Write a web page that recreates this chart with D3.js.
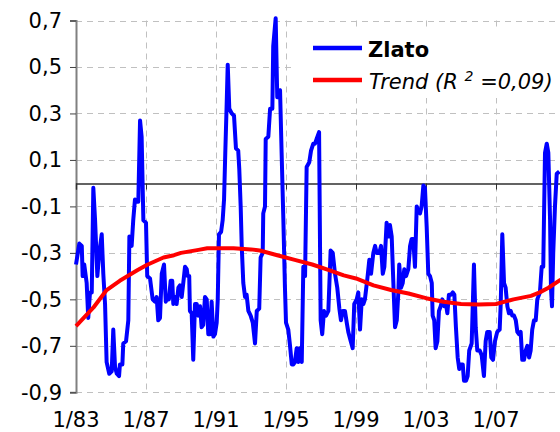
<!DOCTYPE html>
<html>
<head>
<meta charset="utf-8">
<script src="https://cdn.jsdelivr.net/npm/d3@7"></script>
<style>
  body { margin: 0; background: #fff; }
  svg { display: block; font-family: "DejaVu Sans", Verdana, sans-serif; }
</style>
</head>
<body>
<div id="chart"></div>
<script>
// years since 1/83 and the gold series
const goldT = [0.00, 0.19, 0.33, 0.38, 0.47, 0.61, 0.70, 0.80, 0.90, 0.99, 1.09, 1.22, 1.33, 1.47, 1.56, 1.66, 1.75, 1.90, 2.04, 2.13, 2.23, 2.33, 2.46, 2.51, 2.65, 2.70, 2.86, 2.99, 3.05, 3.18, 3.27, 3.37, 3.47, 3.56, 3.66, 3.75, 3.85, 4.00, 4.07, 4.23, 4.38, 4.51, 4.61, 4.70, 4.80, 4.90, 5.03, 5.13, 5.22, 5.31, 5.41, 5.50, 5.56, 5.66, 5.75, 5.85, 5.94, 6.04, 6.13, 6.23, 6.33, 6.38, 6.47, 6.51, 6.61, 6.70, 6.80, 6.90, 6.99, 7.09, 7.18, 7.27, 7.37, 7.47, 7.56, 7.66, 7.75, 7.85, 7.94, 8.04, 8.10, 8.17, 8.29, 8.38, 8.46, 8.53, 8.61, 8.67, 8.76, 8.90, 9.03, 9.14, 9.27, 9.33, 9.41, 9.47, 9.56, 9.66, 9.75, 9.85, 9.98, 10.10, 10.23, 10.33, 10.47, 10.55, 10.67, 10.70, 10.80, 10.84, 10.99, 11.09, 11.22, 11.27, 11.41, 11.50, 11.66, 11.75, 11.85, 11.94, 12.00, 12.13, 12.23, 12.33, 12.42, 12.51, 12.61, 12.70, 12.80, 12.90, 12.99, 13.09, 13.18, 13.33, 13.43, 13.56, 13.66, 13.75, 13.89, 13.98, 14.07, 14.17, 14.29, 14.42, 14.55, 14.67, 14.80, 14.93, 15.05, 15.14, 15.24, 15.37, 15.47, 15.56, 15.70, 15.81, 15.90, 16.04, 16.13, 16.23, 16.33, 16.42, 16.51, 16.65, 16.76, 16.86, 16.99, 17.09, 17.18, 17.33, 17.43, 17.53, 17.62, 17.75, 17.85, 17.94, 18.04, 18.13, 18.23, 18.33, 18.42, 18.47, 18.57, 18.67, 18.76, 18.86, 18.99, 19.09, 19.18, 19.27, 19.37, 19.47, 19.56, 19.66, 19.75, 19.85, 19.94, 20.04, 20.13, 20.23, 20.33, 20.38, 20.47, 20.55, 20.65, 20.74, 20.84, 20.93, 21.05, 21.14, 21.22, 21.31, 21.43, 21.53, 21.62, 21.71, 21.81, 21.90, 22.00, 22.10, 22.17, 22.29, 22.38, 22.47, 22.61, 22.74, 22.84, 22.93, 23.07, 23.18, 23.31, 23.41, 23.50, 23.64, 23.73, 23.83, 23.94, 24.07, 24.21, 24.27, 24.36, 24.46, 24.55, 24.65, 24.74, 24.84, 24.93, 25.03, 25.13, 25.22, 25.31, 25.41, 25.50, 25.60, 25.70, 25.79, 25.89, 25.98, 26.07, 26.17, 26.27, 26.36, 26.51, 26.61, 26.70, 26.80, 26.90, 26.99, 27.09, 27.14, 27.20, 27.27, 27.37, 27.47, 27.62];
const goldValues = [-0.35, -0.26, -0.27, -0.40, -0.35, -0.43, -0.58, -0.47, -0.47, -0.02, -0.16, -0.40, -0.30, -0.22, -0.39, -0.52, -0.77, -0.82, -0.81, -0.63, -0.79, -0.82, -0.83, -0.78, -0.78, -0.69, -0.68, -0.59, -0.23, -0.27, -0.16, -0.07, -0.08, -0.08, 0.27, 0.20, -0.16, -0.17, -0.40, -0.41, -0.50, -0.51, -0.49, -0.59, -0.58, -0.39, -0.35, -0.51, -0.49, -0.50, -0.42, -0.42, -0.52, -0.49, -0.52, -0.45, -0.44, -0.49, -0.43, -0.36, -0.37, -0.40, -0.40, -0.55, -0.56, -0.76, -0.52, -0.52, -0.57, -0.53, -0.62, -0.61, -0.49, -0.50, -0.65, -0.65, -0.51, -0.66, -0.65, -0.60, -0.50, -0.22, -0.21, -0.16, -0.07, 0.13, 0.34, 0.51, 0.32, 0.30, 0.29, 0.15, 0.14, 0.06, -0.10, -0.27, -0.43, -0.49, -0.48, -0.55, -0.57, -0.60, -0.69, -0.55, -0.54, -0.32, -0.30, -0.13, -0.10, 0.19, 0.20, 0.32, 0.32, 0.59, 0.71, 0.37, 0.40, 0.13, -0.16, -0.45, -0.60, -0.63, -0.70, -0.78, -0.78, -0.77, -0.71, -0.77, -0.71, -0.77, -0.36, -0.40, 0.07, 0.09, 0.14, 0.17, 0.17, 0.19, 0.22, -0.59, -0.65, -0.55, -0.57, -0.55, -0.29, -0.30, -0.39, -0.45, -0.54, -0.59, -0.55, -0.55, -0.60, -0.64, -0.68, -0.71, -0.52, -0.50, -0.47, -0.63, -0.50, -0.52, -0.50, -0.41, -0.33, -0.39, -0.30, -0.27, -0.30, -0.30, -0.27, -0.39, -0.36, -0.17, -0.23, -0.18, -0.23, -0.42, -0.62, -0.59, -0.47, -0.35, -0.45, -0.43, -0.37, -0.40, -0.37, -0.27, -0.24, -0.24, -0.36, -0.10, -0.12, -0.13, -0.10, -0.01, -0.02, -0.19, -0.39, -0.40, -0.43, -0.57, -0.59, -0.71, -0.68, -0.55, -0.53, -0.50, -0.53, -0.52, -0.56, -0.48, -0.48, -0.47, -0.48, -0.62, -0.75, -0.80, -0.78, -0.78, -0.85, -0.85, -0.83, -0.72, -0.69, -0.35, -0.62, -0.72, -0.72, -0.74, -0.83, -0.68, -0.64, -0.64, -0.75, -0.76, -0.68, -0.64, -0.63, -0.52, -0.22, -0.43, -0.45, -0.53, -0.56, -0.55, -0.57, -0.57, -0.59, -0.64, -0.65, -0.64, -0.76, -0.76, -0.72, -0.70, -0.75, -0.72, -0.63, -0.59, -0.59, -0.50, -0.47, -0.36, -0.36, 0.13, 0.17, 0.13, -0.16, -0.45, -0.53, -0.30, -0.10, 0.04, 0.05];

// trend line
const trendT = [0, 1.0, 1.75, 2.5, 3.5, 4.04, 5.0, 5.6, 6.0, 7.0, 7.5, 9.0, 10.0, 10.5, 11.5, 12.5, 13.5, 14.5, 15.3, 16.0, 17.0, 18.0, 19.0, 20.0, 21.0, 22.0, 23.0, 24.0, 25.0, 26.0, 26.5, 27.0, 27.7];
const trendValues = [-0.615, -0.535, -0.46, -0.42, -0.375, -0.352, -0.32, -0.31, -0.30, -0.287, -0.28, -0.28, -0.285, -0.29, -0.31, -0.33, -0.35, -0.375, -0.397, -0.41, -0.44, -0.46, -0.475, -0.495, -0.51, -0.52, -0.522, -0.52, -0.50, -0.485, -0.47, -0.45, -0.415];

const xTickT = [0, 4, 8, 12, 16, 20, 24];
const xTickLabels = ["1/83", "1/87", "1/91", "1/95", "1/99", "1/03", "1/07"];
const yTicks = [-0.9, -0.7, -0.5, -0.3, -0.1, 0.1, 0.3, 0.5, 0.7];

const width = 560, height = 432;
const margin = {top: 20.5, left: 76, bottom: 39.7};
const fontSize = 21;

const svg = d3.select("#chart")
  .append("svg")
    .attr("width", width)
    .attr("height", height);

svg.append("rect").attr("width", width).attr("height", height).attr("fill", "#fff");

// plot runs on past the right edge of the picture (to 1/11)
const x = d3.scaleLinear()
  .domain([0, 28])
  .range([margin.left, margin.left + 28 * 17.5]);
const y = d3.scaleLinear()
  .domain([-0.9, 0.7])
  .range([height - margin.bottom, margin.top]);

const locale = d3.formatLocale({decimal: ",", thousands: " ", grouping: [3], currency: ["", ""], minus: "-"});
const fmt = locale.format(".1f");

// dashed grid
svg.append("g")
  .selectAll("line")
  .data(yTicks)
  .join("line")
    .attr("x1", margin.left)
    .attr("x2", x(28))
    .attr("y1", d => Math.round(y(d)) + 0.5)
    .attr("y2", d => Math.round(y(d)) + 0.5)
    .attr("stroke", "#c0c0c0")
    .attr("stroke-dasharray", "6,5");

svg.append("g")
  .selectAll("line")
  .data(xTickT.slice(1).concat([28]))
  .join("line")
    .attr("x1", d => Math.round(x(d)) + 0.5)
    .attr("x2", d => Math.round(x(d)) + 0.5)
    .attr("y1", margin.top)
    .attr("y2", y(-0.9))
    .attr("stroke", "#c0c0c0")
    .attr("stroke-dasharray", "6,5");

// left axis
const yAxis = svg.append("g")
  .attr("transform", `translate(${margin.left},0)`)
  .call(d3.axisLeft(y).tickValues(yTicks).tickFormat(fmt).tickSize(6).tickPadding(8));
yAxis.select(".domain").attr("stroke", "#808080").attr("stroke-width", 2);
yAxis.selectAll(".tick line").attr("stroke", "#404040");
yAxis.selectAll("text")
  .attr("font-size", fontSize)
  .attr("font-family", "DejaVu Sans, Verdana, sans-serif")
  .attr("fill", "#000");

// category axis crosses at zero
const zeroY = Math.round(y(0)) + 0.5;
const xAxis = svg.append("g")
  .attr("transform", `translate(0,${zeroY})`)
  .call(d3.axisBottom(x).tickValues(xTickT.concat([28])).tickFormat("").tickSize(6));
xAxis.select(".domain").attr("stroke", "#303030").attr("stroke-width", 1.3);
xAxis.selectAll(".tick line").attr("stroke", "#303030");

svg.append("g")
  .selectAll("text")
  .data(xTickT)
  .join("text")
    .attr("x", d => x(d))
    .attr("y", 427)
    .attr("text-anchor", "middle")
    .attr("font-size", fontSize)
    .text((d, i) => xTickLabels[i]);

// series
const line = d3.line()
  .x(d => x(d[0]))
  .y(d => y(d[1]));

svg.append("path")
  .datum(goldT.map((t, i) => [t, goldValues[i]]))
  .attr("fill", "none")
  .attr("stroke", "#0000ff")
  .attr("stroke-width", 4)
  .attr("stroke-linejoin", "round")
  .attr("d", line);

svg.append("path")
  .datum(trendT.map((t, i) => [t, trendValues[i]]))
  .attr("fill", "none")
  .attr("stroke", "#ff0000")
  .attr("stroke-width", 4)
  .attr("stroke-linejoin", "round")
  .attr("d", line);

// legend
const legend = svg.append("g");
legend.append("rect")
  .attr("x", 291).attr("y", 30)
  .attr("width", 280).attr("height", 68)
  .attr("fill", "#fff");
legend.append("line")
  .attr("x1", 313).attr("x2", 362).attr("y1", 48).attr("y2", 48)
  .attr("stroke", "#0000ff").attr("stroke-width", 4.5);
legend.append("line")
  .attr("x1", 313).attr("x2", 362).attr("y1", 80).attr("y2", 80)
  .attr("stroke", "#ff0000").attr("stroke-width", 4.5);
legend.append("text")
  .attr("x", 368).attr("y", 56.5)
  .attr("font-size", fontSize)
  .attr("font-weight", "bold")
  .text("Zlato");
const trendLabel = legend.append("text")
  .attr("x", 369).attr("y", 88.5)
  .attr("font-size", fontSize)
  .attr("font-style", "italic");
trendLabel.append("tspan").text("Trend (R ");
trendLabel.append("tspan").attr("font-size", 14).attr("dy", -8).text("2");
trendLabel.append("tspan").attr("dy", 8).text(" =0,09)");
</script>
</body>
</html>
